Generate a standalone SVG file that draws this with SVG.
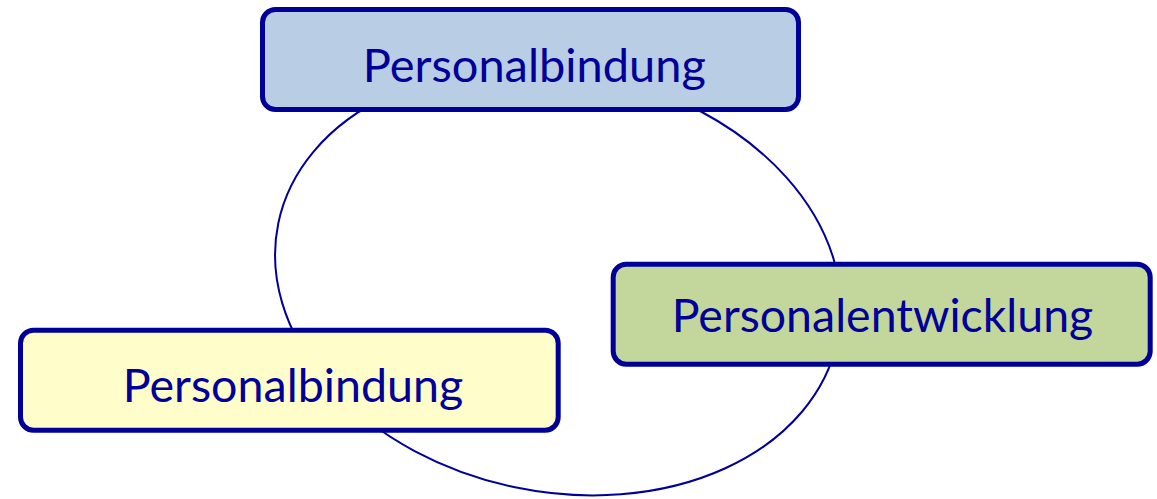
<svg xmlns="http://www.w3.org/2000/svg" width="1157" height="499" viewBox="0 0 1157 499">
  <style>
    .box { stroke: #000099; stroke-width: 5; }
    .lbl { font-family: Lato, "Open Sans", "Liberation Sans", sans-serif; font-size: 47px; fill: #000099; text-anchor: middle; }
    .conn { fill: none; stroke: #000099; stroke-width: 2; }
  </style>
  <rect width="1157" height="499" fill="#ffffff"/>
  <g id="connectors">
    <ellipse class="conn" cx="0" cy="0" rx="285.7" ry="210.3" transform="translate(558 281.4) rotate(11.8)"/>
  </g>
  <g id="node-top">
    <rect class="box" x="262.5" y="9.5" width="536" height="100" rx="13" fill="#B9CDE5"/>
    <text class="lbl" x="534.3" y="81.7" textLength="343" lengthAdjust="spacingAndGlyphs">Personalbindung</text>
  </g>
  <g id="node-right">
    <rect class="box" x="613.2" y="264.2" width="537" height="100" rx="13" fill="#C3D69B"/>
    <text class="lbl" x="882.5" y="331.7" textLength="421.6" lengthAdjust="spacingAndGlyphs">Personalentwicklung</text>
  </g>
  <g id="node-left">
    <rect class="box" x="20.5" y="330.2" width="537.7" height="100" rx="13" fill="#FFFDCA"/>
    <text class="lbl" x="293" y="401.7" textLength="340.6" lengthAdjust="spacingAndGlyphs">Personalbindung</text>
  </g>
</svg>
